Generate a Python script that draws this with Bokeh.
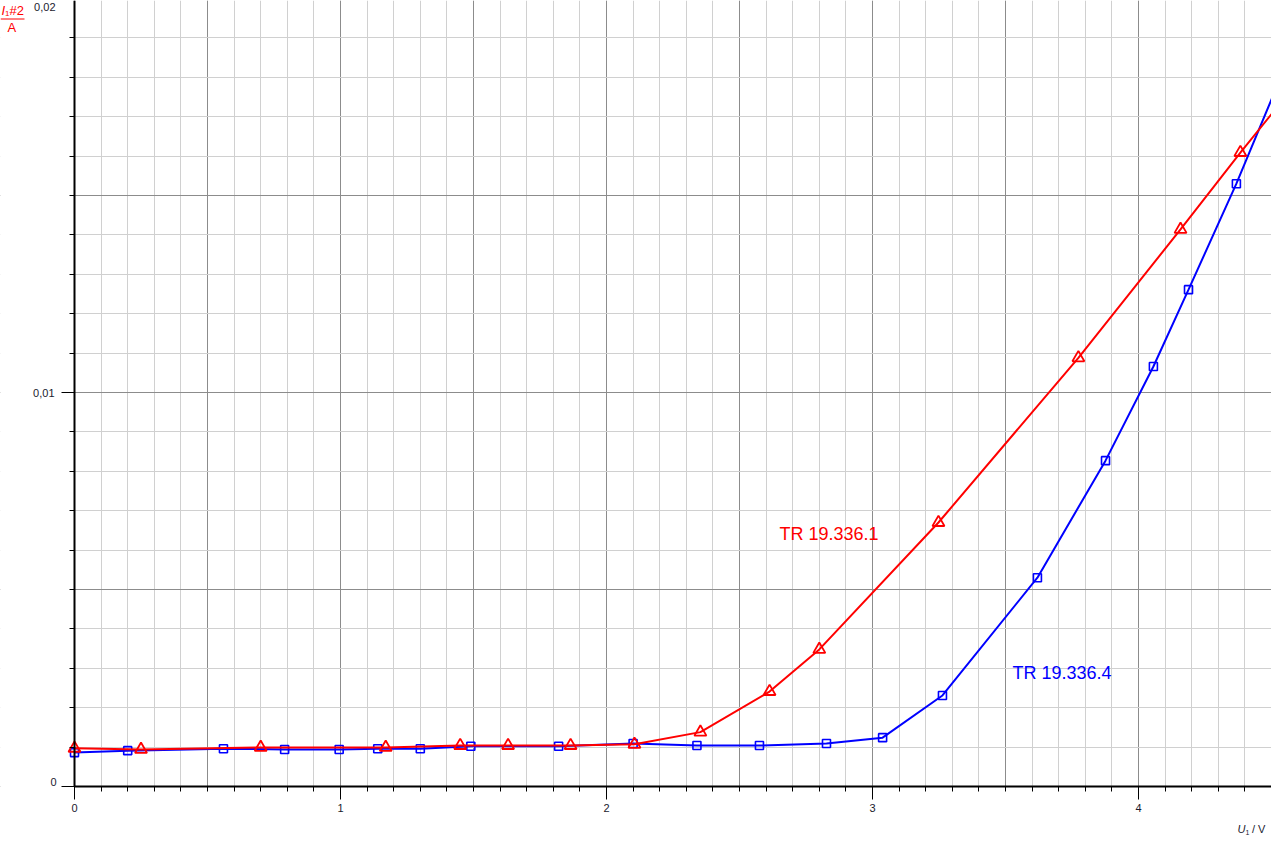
from bokeh.plotting import figure
from bokeh.models import (Range1d, FixedTicker, CustomJSTickFormatter, Label,
                          LinearAxis, BoxAnnotation, Arrow)
from bokeh.embed import file_html
from bokeh.resources import INLINE

# Series TR 19.336.1 (red, triangles): U1 / V, I1#2 / A
red_u = [0.0, 0.25, 0.70, 1.17, 1.45, 1.63, 1.865, 2.105, 2.353, 2.613, 2.80, 3.248, 3.774, 4.158, 4.383, 4.60]
red_i = [0.00097, 0.00094, 0.00099, 0.00099, 0.00104, 0.00104, 0.00104, 0.00107, 0.00138, 0.00241, 0.00348, 0.00670, 0.01088, 0.01414, 0.01609, 0.01790]

# Series TR 19.336.4 (blue, squares)
blue_u = [0.0, 0.20, 0.56, 0.79, 0.995, 1.14, 1.30, 1.49, 1.82, 2.10, 2.34, 2.575, 2.827, 3.038, 3.263, 3.62, 3.876, 4.056, 4.188, 4.368, 4.55]
blue_i = [0.00086, 0.00091, 0.00096, 0.00094, 0.00094, 0.00096, 0.00096, 0.00102, 0.00102, 0.00109, 0.00104, 0.00104, 0.00109, 0.00124, 0.00231, 0.00530, 0.00827, 0.01066, 0.01261, 0.01530, 0.01825]

series_names = ["TR 19.336.1", "TR 19.336.4"]
x_tick_values = [0, 1, 2, 3, 4]
y_tick_values = [0, 0.01, 0.02]
y_tick_labels = ["0", "0,01", "0,02"]

# canvas geometry: plot area spans x 74..1271 px and y 0..786 px
W, H = 1271, 862
FX0, FY0 = 74, 786           # pixel position of the origin
X_END = 4.5
PX_PER_U = (W - FX0) / X_END  # px per volt
PX_PER_I = 39400.0           # px per ampere

def px_to_u(px):
    return (px - FX0) / PX_PER_U

def py_to_i(py):
    return (FY0 - py) / PX_PER_I

X0, X1 = px_to_u(0), px_to_u(W)
Y0, Y1 = py_to_i(H), py_to_i(0)

p = figure(width=W, height=H, output_backend="svg", toolbar_location=None,
           x_range=Range1d(X0, X1), y_range=Range1d(Y0, Y1),
           x_axis_location=None, y_axis_location=None,
           min_border=0, min_border_left=0, min_border_right=0,
           min_border_top=0, min_border_bottom=0)
p.outline_line_color = None
p.background_fill_color = "white"
p.border_fill_color = "white"

# grids
p.xgrid.ticker = FixedTicker(ticks=[i * 0.5 for i in range(10)],
                             minor_ticks=[round(i * 0.1, 3) for i in range(46)])
p.ygrid.ticker = FixedTicker(ticks=[i * 0.005 for i in range(5)],
                             minor_ticks=[round(i * 0.001, 4) for i in range(21)])
p.xgrid.bounds = (0, X_END)
p.ygrid.bounds = (0, Y1)
for g in (p.xgrid, p.ygrid):
    g.grid_line_color = "#8c8c8c"
    g.grid_line_width = 1
    g.minor_grid_line_color = "#d0d0d0"
    g.minor_grid_line_width = 1

# white masks outside the plotting area (below the axis and left of it)
p.add_layout(BoxAnnotation(right=0, fill_color="white", fill_alpha=1.0,
                           line_alpha=0, level="underlay"))
p.add_layout(BoxAnnotation(top=0, fill_color="white", fill_alpha=1.0,
                           line_alpha=0, level="underlay"))

# axes fixed at the origin
xaxis = LinearAxis(fixed_location=0, bounds=(0, X_END),
                   ticker=FixedTicker(ticks=x_tick_values,
                                      minor_ticks=[round(i * 0.1, 3) for i in range(46)]),
                   formatter=CustomJSTickFormatter(code="return String(Math.round(tick));"))
yaxis = LinearAxis(fixed_location=0, bounds=(0, Y1),
                   ticker=FixedTicker(ticks=y_tick_values,
                                      minor_ticks=[round(i * 0.001, 4) for i in range(21)]),
                   formatter=CustomJSTickFormatter(code="return '';"))
for ax in (xaxis, yaxis):
    ax.axis_line_color = "black"
    ax.axis_line_width = 2
    ax.major_tick_line_color = "black"
    ax.minor_tick_line_color = "black"
    ax.major_tick_out = 13
    ax.major_tick_in = 0
    ax.minor_tick_out = 5
    ax.minor_tick_in = 0
    ax.major_label_text_font = "Liberation Sans"
    ax.major_label_text_font_size = "11px"
    ax.major_label_text_color = "#1a1a2e"
xaxis.major_label_standoff = 4
yaxis.major_label_standoff = 6
p.add_layout(xaxis, "below")
p.add_layout(yaxis, "left")

# data lines
p.line(blue_u, blue_i, line_color="blue", line_width=2)
p.scatter(blue_u, blue_i, marker="square", size=8, fill_color=None,
          line_color="blue", line_width=1.6)
p.line(red_u, red_i, line_color="red", line_width=2)
p.scatter(red_u, red_i, marker="triangle", size=12, fill_color=None,
          line_color="red", line_width=1.8)

def lab(px, py, text, color, size, style="normal", align="left"):
    p.add_layout(Label(x=px_to_u(px), y=py_to_i(py), text=text, text_color=color,
                       text_font="Liberation Sans", text_font_size=size,
                       text_font_style=style, text_align=align,
                       text_baseline="middle"))

# y tick labels, right aligned next to the ticks (0,02 sits at the top edge,
# 0 is nudged up a little as in the original)
for v, t in zip(y_tick_values, y_tick_labels):
    y = py_to_i(v) * 0 + v
    if v == 0:
        p.add_layout(Label(x=px_to_u(56), y=v, y_offset=5, text=t, text_color="#1a1a2e",
                           text_font="Liberation Sans", text_font_size="11px",
                           text_align="right", text_baseline="middle"))
    elif v >= Y1:
        p.add_layout(Label(x=px_to_u(55), y=Y1, y_offset=-6, text=t, text_color="#1a1a2e",
                           text_font="Liberation Sans", text_font_size="11px",
                           text_align="right", text_baseline="middle"))
    else:
        p.add_layout(Label(x=px_to_u(54), y=v, text=t, text_color="#1a1a2e",
                           text_font="Liberation Sans", text_font_size="11px",
                           text_align="right", text_baseline="middle"))

# series labels (positions given as text centre)
lab(779, 533.5, series_names[0], "red", "18px")
lab(1012, 672, series_names[1], "blue", "18px")

# y axis title: I1#2 / A as a fraction
tc = "red"
lab(1, 9.5, "I", tc, "13px", style="italic")
lab(4.5, 13, "1", tc, "8px")
lab(9, 9.5, "#2", tc, "13px")
p.add_layout(Arrow(x_start=px_to_u(0), y_start=py_to_i(18.5), x_end=px_to_u(24), y_end=py_to_i(18.5),
                   start=None, end=None, line_color=tc, line_width=1))
lab(7, 26.5, "A", tc, "13px")

# x axis title: U1 / V
xc = "#202030"
lab(1237, 828.5, "U", xc, "11px", style="italic")
lab(1245, 832, "1", xc, "7px")
lab(1251.5, 828.5, "/ V", xc, "11px")

open("out.html", "w").write(file_html(p, INLINE))
